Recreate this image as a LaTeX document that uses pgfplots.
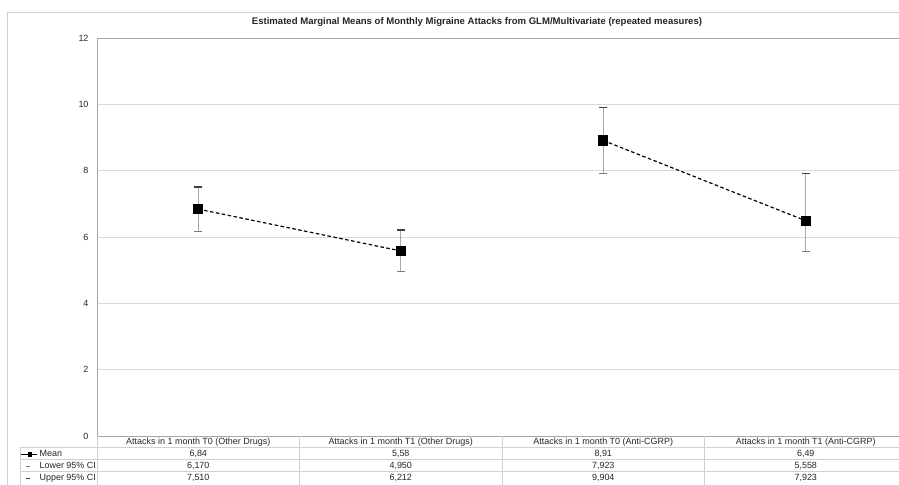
\documentclass[border=0pt]{standalone}
\usepackage{pgfplots}
\pgfplotsset{compat=1.18}
\usepackage{pgfplotstable}
\usepackage{fontspec}
\setmainfont{Liberation Sans}
\definecolor{gridgray}{HTML}{D9D9D9}
\definecolor{axisgray}{HTML}{A6A6A6}
\definecolor{framegray}{HTML}{D0D0D0}
\definecolor{bargray}{HTML}{A8A8A8}
\definecolor{capdark}{HTML}{404040}
\definecolor{capbrown}{HTML}{A0704A}
\definecolor{txt}{HTML}{262626}
\pgfplotstableread{
x m lo hi
0 6.84 6.170 7.510
1 5.58 4.950 6.212
2 8.91 7.923 9.904
3 6.49 5.558 7.923
}\data
\newcommand{\tf}{\fontsize{9}{10}\selectfont}
\begin{document}
\begin{tikzpicture}[x=1bp,y=1bp]
\useasboundingbox (0,0) rectangle (899,485);
% outer frame
\draw[framegray, line width=0.8bp] (7,-5) -- (7,473) -- (910,473);
\node[font=\bfseries\fontsize{9.6}{11}\selectfont, text=txt] at (477,462.5) {Estimated Marginal Means of Monthly Migraine Attacks from GLM/Multivariate (repeated measures)};
\begin{axis}[
  at={(97bp,49bp)}, anchor=south west, scale only axis,
  width=810bp, height=398bp,
  xmin=-0.5, xmax=3.5, ymin=0, ymax=12,
  ytick={0,2,...,12}, xtick=\empty,
  ymajorgrids, grid style={color=gridgray, line width=0.8bp},
  axis line style={color=axisgray, line width=0.8bp},
  major tick length=0pt,
  /pgf/number format/assume math mode=true,
  yticklabel style={font=\tf, text=txt, xshift=-5bp},
  clip=false,
  legend style={at={(-0.09506,-0.03015)}, anchor=north west, draw=none, fill=none,
    font=\tf, text=txt, inner sep=0pt, row sep=0pt, column sep=0pt,
    nodes={inner xsep=1bp, inner ysep=0pt, text height=8.5bp, text depth=3.5bp}},
  legend cell align=left,
]
% upper error bars
\addplot[draw=none, mark=none, forget plot,
  error bars/.cd, y dir=plus, y explicit,
  error bar style={draw=bargray, line width=1.3bp},
  error mark=|, error mark options={draw=capdark, line width=1.2bp, mark size=4bp}]
  table[x=x, y=m, y error expr=\thisrow{hi}-\thisrow{m}] {\data};
% lower error bars
\addplot[draw=none, mark=none, forget plot,
  error bars/.cd, y dir=minus, y explicit,
  error bar style={draw=bargray, line width=1.3bp},
  error mark=|, error mark options={draw=capbrown, line width=1.2bp, mark size=4bp}]
  table[x=x, y=m, y error expr=\thisrow{m}-\thisrow{lo}] {\data};
% means
\addplot[black, line width=1.2bp, dash pattern=on 3.5bp off 2.5bp, mark=square*, mark size=4.5bp, mark options={solid}, forget plot]
  table[x=x, y=m, skip coords between index={2}{4}] {\data};
\addplot[black, line width=1.2bp, dash pattern=on 3.5bp off 2.5bp, mark=square*, mark size=4.5bp, mark options={solid}, forget plot]
  table[x=x, y=m, skip coords between index={0}{2}] {\data};
\addlegendimage{legend image code/.code={\path (0,0) (18bp,0); \draw[black, line width=0.8bp] (1bp,0) -- (17bp,0); \fill[black] (7.5bp,-1.8bp) rectangle (11bp,1.8bp);}}
\addlegendentry{Mean}
\addlegendimage{legend image code/.code={\path (0,0) (18bp,0); \draw[capbrown, line width=0.9bp] (6bp,0) -- (10bp,0);}}
\addlegendentry{Lower 95\% CI}
\addlegendimage{legend image code/.code={\path (0,0) (18bp,0); \draw[capdark, line width=0.9bp] (6bp,0) -- (10bp,0);}}
\addlegendentry{Upper 95\% CI}
\end{axis}
% table grid
\begin{scope}[framegray, line width=0.8bp]
\foreach \yy in {37.5,25.5,13.5} {\draw (20,\yy) -- (910,\yy);}
\draw (20,37.5) -- (20,-5);
\foreach \xx in {97,299.5,502,704.5} {\draw (\xx,49) -- (\xx,-5);}
\end{scope}
\begin{scope}[font=\tf, text=txt]
\node at (198.25,42.5) {Attacks in 1 month T0 (Other Drugs)};
\node at (400.75,42.5) {Attacks in 1 month T1 (Other Drugs)};
\node at (603.25,42.5) {Attacks in 1 month T0 (Anti-CGRP)};
\node at (805.75,42.5) {Attacks in 1 month T1 (Anti-CGRP)};
\node at (198.25,31.5) {6,84};
\node at (400.75,31.5) {5,58};
\node at (603.25,31.5) {8,91};
\node at (805.75,31.5) {6,49};
\node at (198.25,19.5) {6,170};
\node at (400.75,19.5) {4,950};
\node at (603.25,19.5) {7,923};
\node at (805.75,19.5) {5,558};
\node at (198.25,7.5) {7,510};
\node at (400.75,7.5) {6,212};
\node at (603.25,7.5) {9,904};
\node at (805.75,7.5) {7,923};
\end{scope}
\end{tikzpicture}
\end{document}
